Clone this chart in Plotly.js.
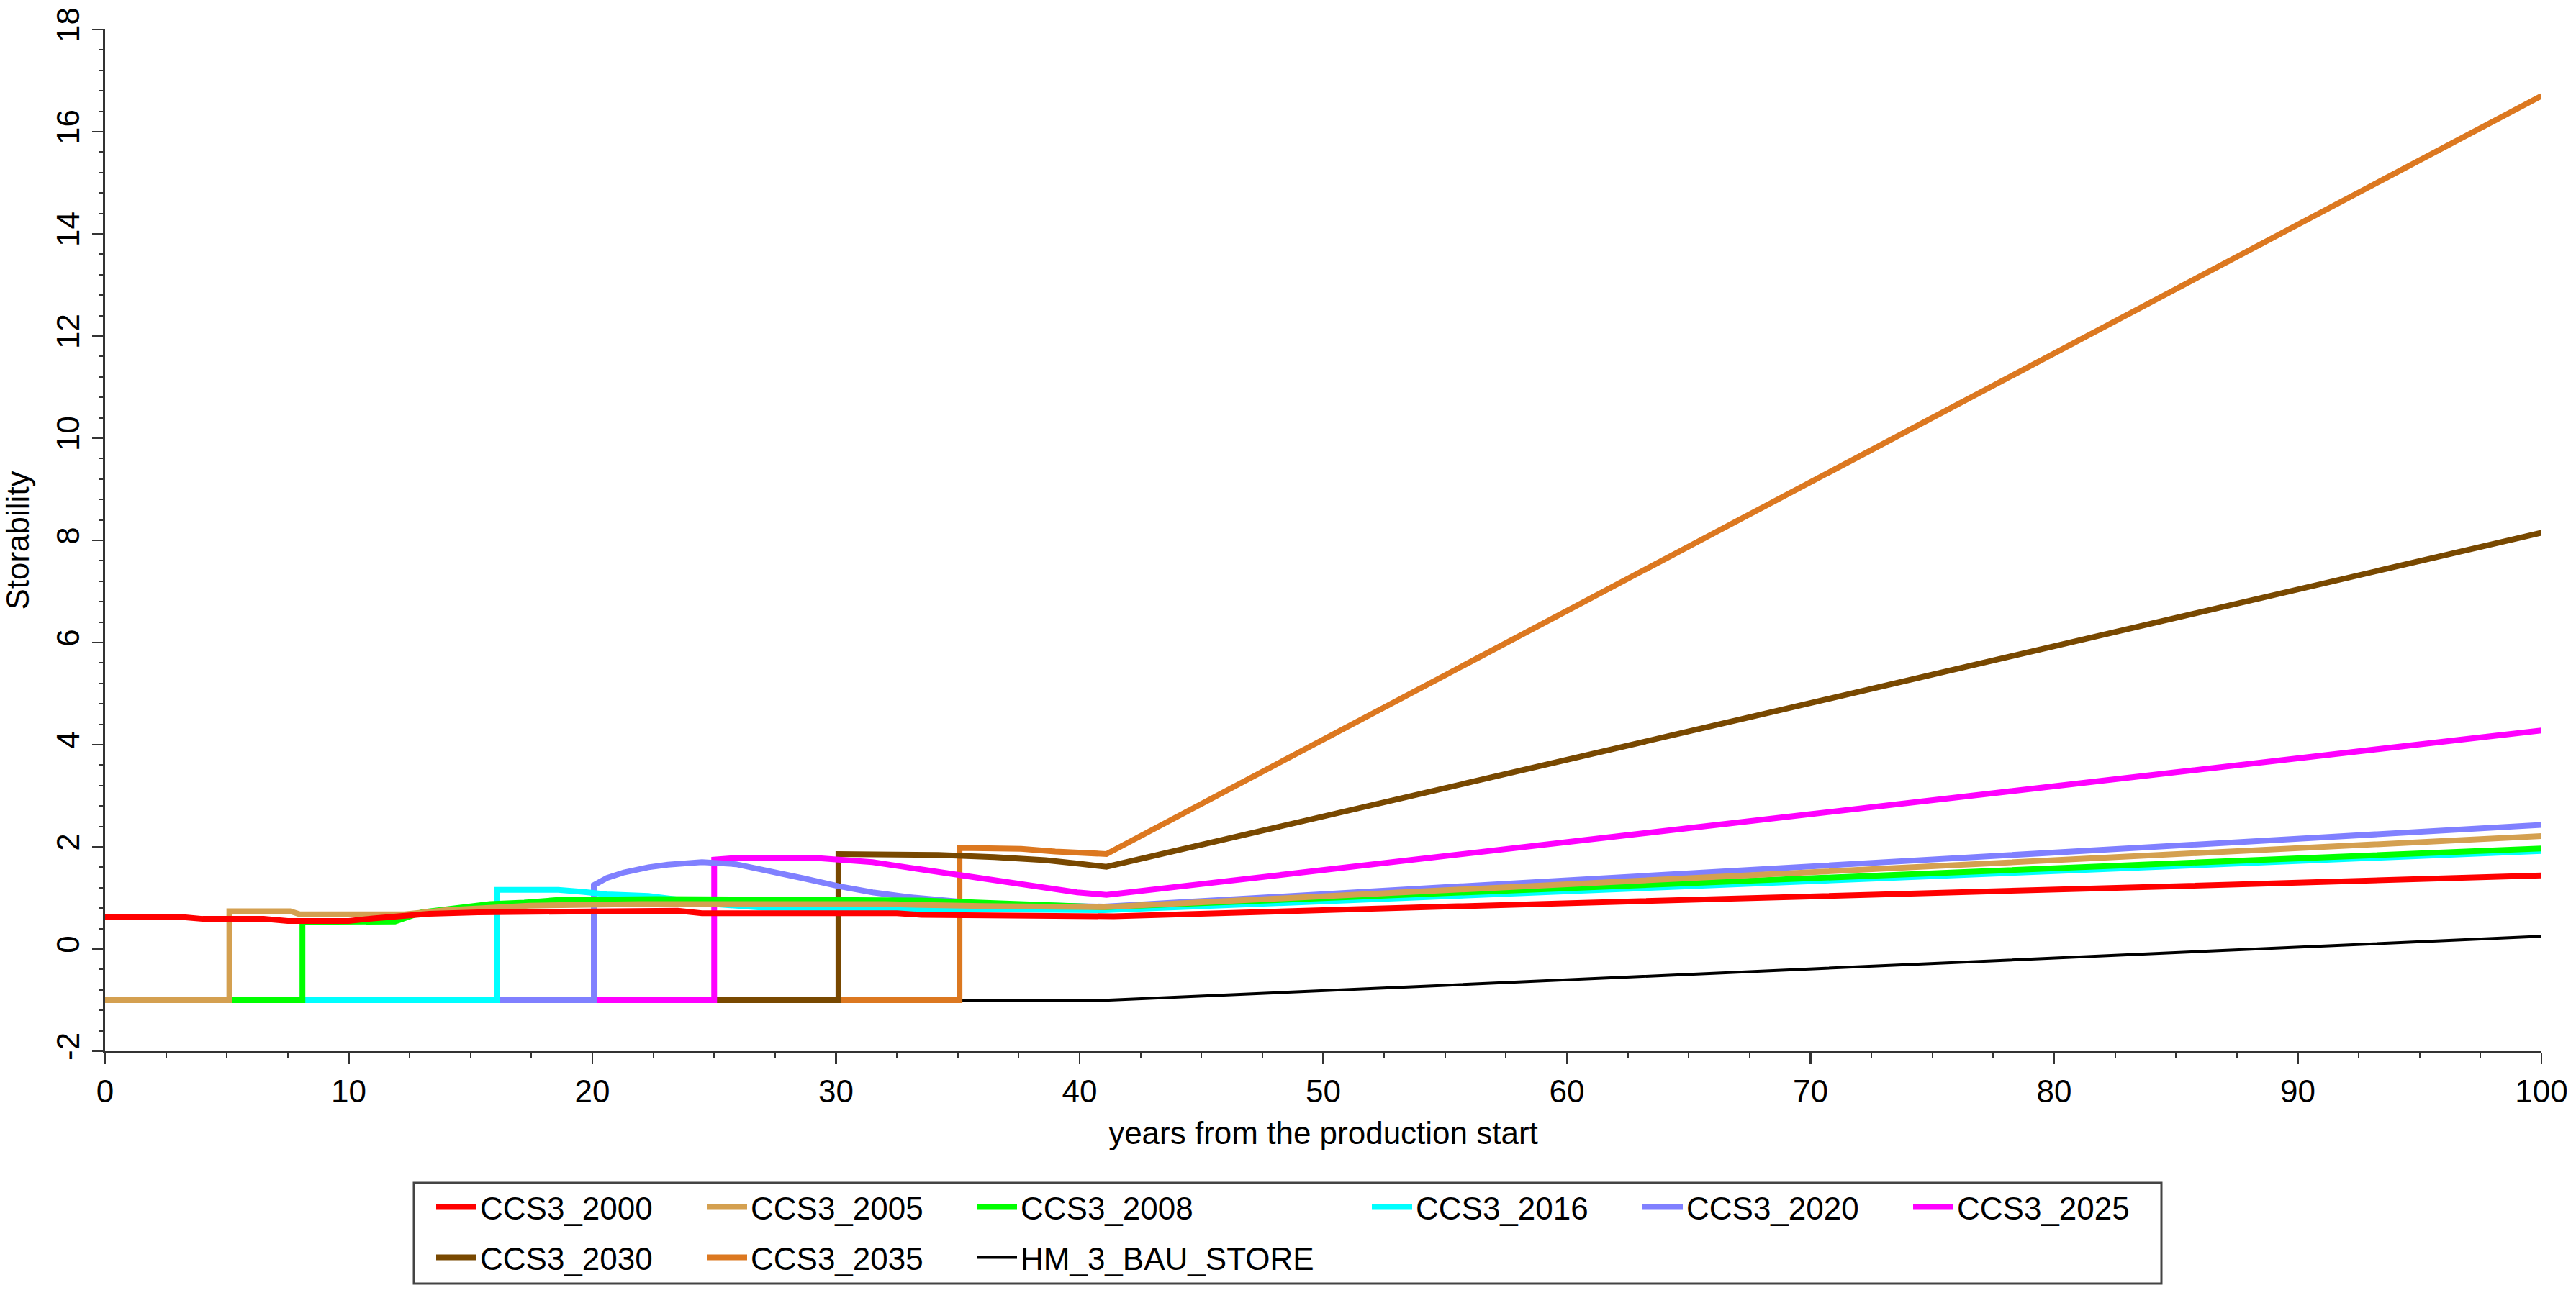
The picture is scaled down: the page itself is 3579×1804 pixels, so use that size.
<!DOCTYPE html>
<html>
<head>
<meta charset="utf-8">
<script src="https://cdn.plot.ly/plotly-3.0.1.min.js"></script>
<style>
  html, body { margin: 0; padding: 0; background: #ffffff; }
  #chart { width: 3579px; height: 1804px; }
</style>
</head>
<body>
<div id="chart"></div>
<script>
// ---- data (x = years from the production start) ----
const names = ["CCS3_2000", "CCS3_2005", "CCS3_2008", "CCS3_2016", "CCS3_2020",
               "CCS3_2025", "CCS3_2030", "CCS3_2035", "HM_3_BAU_STORE"];
const colors = ["#FF0000", "#D4A050", "#00FF00", "#00FFFF", "#8080FF",
                "#FF00FF", "#784800", "#DC7820", "#000000"];

const x2000 = [0, 3.3, 4, 6.5, 7.5, 10, 11, 12, 13.3, 15.3, 18, 21, 23.5, 24.5, 32.5, 33.5, 39.5, 41.4, 55, 70, 85, 100];
const y2000 = [0.62, 0.62, 0.59, 0.59, 0.55, 0.55, 0.60, 0.65, 0.69, 0.72, 0.73, 0.74, 0.75, 0.70, 0.70, 0.67, 0.66, 0.64, 0.83, 1.02, 1.23, 1.44];

const x2005 = [0, 5.1, 5.1, 7.6, 8, 12.3, 14, 17.4, 22, 32, 36, 41, 55, 70, 85, 100];
const y2005 = [-1, -1, 0.74, 0.74, 0.68, 0.68, 0.76, 0.85, 0.88, 0.88, 0.84, 0.82, 1.15, 1.50, 1.86, 2.21];

const x2008 = [0, 8.1, 8.1, 11.9, 13, 14.4, 15.8, 17.2, 18.6, 22.6, 27, 33.5, 41, 55, 70, 85, 100];
const y2008 = [-1, -1, 0.53, 0.54, 0.72, 0.81, 0.88, 0.91, 0.96, 0.98, 0.97, 0.95, 0.82, 1.09, 1.39, 1.68, 1.97];

const x2016 = [0, 16.1, 16.1, 18.6, 19.6, 20.6, 22.3, 23.1, 25, 27, 30, 35, 41, 55, 70, 85, 100];
const y2016 = [-1, -1, 1.16, 1.16, 1.12, 1.07, 1.04, 1.00, 0.88, 0.81, 0.80, 0.78, 0.76, 1.03, 1.33, 1.62, 1.92];

const x2020 = [0, 20.06, 20.06, 20.6, 21.3, 22.3, 23.1, 24.5, 25.9, 27.3, 28.7, 30.1, 31.5, 32.9, 34.3, 35.7, 37.1, 41, 55, 70, 85, 100];
const y2020 = [-1, -1, 1.25, 1.39, 1.50, 1.60, 1.65, 1.70, 1.66, 1.53, 1.38, 1.23, 1.11, 1.02, 0.95, 0.90, 0.87, 0.83, 1.21, 1.62, 2.02, 2.43];

const x2025 = [0, 25, 25, 26.1, 29, 30.1, 31.5, 32.9, 34.3, 35.7, 37.1, 38.5, 39.9, 41.1, 55, 70, 85, 100];
const y2025 = [-1, -1, 1.75, 1.79, 1.79, 1.76, 1.70, 1.60, 1.50, 1.40, 1.30, 1.19, 1.11, 1.06, 1.83, 2.64, 3.46, 4.28];

const x2030 = [0, 30.1, 30.1, 34.2, 36.5, 38.6, 40, 41.1, 55, 70, 85, 100];
const y2030 = [-1, -1, 1.86, 1.84, 1.80, 1.74, 1.67, 1.61, 3.15, 4.82, 6.48, 8.15];

const x2035 = [0, 35.07, 35.07, 37.6, 39, 41.1, 55, 70, 85, 100];
const y2035 = [-1, -1, 1.98, 1.96, 1.91, 1.86, 5.36, 9.14, 12.92, 16.70];

const xHM = [0, 41.2, 55, 70, 85, 100];
const yHM = [-1, -1, -0.71, -0.39, -0.07, 0.25];

// y-axis tick labels (hyphen minus as in the reference)
const yTickVals = [-2, 0, 2, 4, 6, 8, 10, 12, 14, 16, 18];
const yTickText = ["-2", "0", "2", "4", "6", "8", "10", "12", "14", "16", "18"];

const xs = [x2000, x2005, x2008, x2016, x2020, x2025, x2030, x2035, xHM];
const ys = [y2000, y2005, y2008, y2016, y2020, y2025, y2030, y2035, yHM];
const widths = [8, 8, 8, 8, 8, 8, 8, 8, 4];

// legend grid: column / row for each series
const legCol = [0, 1, 2, 3, 4, 5, 0, 1, 2];
const legRow = [0, 0, 0, 0, 0, 0, 1, 1, 1];
const colLeftPx = [601, 977, 1352, 1901, 2277, 2653];
const rowCenterPx = [1678, 1748];

// plot-area geometry (pixels)
const W = 3579, H = 1804;
const L = 146, R = 3531, T = 41, B = 1461;
const px2paperX = p => (p - L) / (R - L);
const px2paperY = p => (B - p) / (B - T);

const FONT = "Liberation Sans, Arial, sans-serif";

// draw in reverse order (CCS3_2000 ends up on top), legend keeps original order
const traces = [];
for (let i = names.length - 1; i >= 0; i--) {
  traces.push({
    type: "scatter",
    mode: "lines",
    name: names[i],
    x: xs[i],
    y: ys[i],
    line: { color: colors[i], width: widths[i] },
    legend: i === 0 ? "legend" : "legend" + (i + 1),
    hoverinfo: "skip"
  });
}

const layout = {
  width: W,
  height: H,
  paper_bgcolor: "#ffffff",
  plot_bgcolor: "#ffffff",
  font: { family: FONT, size: 44, color: "#000000" },
  margin: { l: L, r: W - R, t: T, b: H - B, pad: 0 },
  showlegend: true,
  xaxis: {
    range: [0, 100],
    dtick: 10,
    tick0: 0,
    ticks: "outside",
    ticklen: 15,
    tickwidth: 2.5,
    tickcolor: "#333333",
    minor: { dtick: 2.5, ticks: "outside", ticklen: 7, tickwidth: 2, tickcolor: "#333333", showgrid: false },
    showline: true,
    linecolor: "#333333",
    linewidth: 3,
    showgrid: false,
    zeroline: false,
    tickfont: { family: FONT, size: 44, color: "#000000" },
    title: { text: "years from the production start", font: { family: FONT, size: 44, color: "#000000" }, standoff: 20 },
    automargin: false,
    fixedrange: true
  },
  yaxis: {
    range: [-2, 18],
    tickmode: "array",
    tickvals: yTickVals,
    ticktext: yTickText,
    ticks: "outside",
    ticklen: 15,
    tickwidth: 2.5,
    tickcolor: "#333333",
    tickangle: -90,
    minor: { tickmode: "linear", tick0: 0, dtick: 0.4, ticks: "outside", ticklen: 6, tickwidth: 2, tickcolor: "#333333", showgrid: false },
    showline: true,
    linecolor: "#333333",
    linewidth: 3,
    showgrid: false,
    zeroline: false,
    tickfont: { family: FONT, size: 44, color: "#000000" },
    title: { text: "Storability", font: { family: FONT, size: 44, color: "#000000" }, standoff: 20 },
    automargin: false,
    fixedrange: true
  },
  shapes: [{
    type: "rect",
    xref: "paper", yref: "paper",
    x0: px2paperX(575), x1: px2paperX(3003),
    y0: px2paperY(1644), y1: px2paperY(1784),
    line: { color: "#444444", width: 3 },
    fillcolor: "rgba(0,0,0,0)",
    layer: "below"
  }]
};

for (let i = 0; i < names.length; i++) {
  const key = i === 0 ? "legend" : "legend" + (i + 1);
  layout[key] = {
    x: px2paperX(colLeftPx[legCol[i]]),
    y: px2paperY(rowCenterPx[legRow[i]]),
    xanchor: "left",
    yanchor: "middle",
    orientation: "v",
    bgcolor: "rgba(0,0,0,0)",
    borderwidth: 0,
    itemwidth: 56,
    font: { family: FONT, size: 44, color: "#000000" },
    itemclick: false,
    itemdoubleclick: false
  };
}

Plotly.newPlot("chart", traces, layout, { displayModeBar: false, staticPlot: true });
</script>
</body>
</html>
